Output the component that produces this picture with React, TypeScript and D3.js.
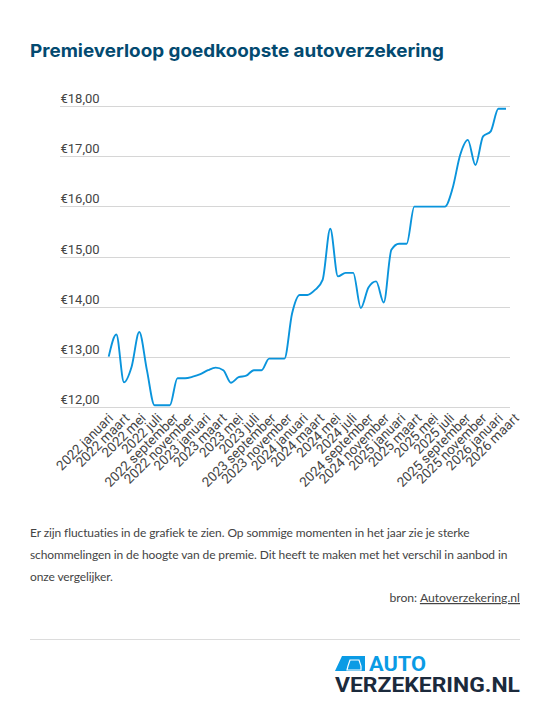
import React from "react";
import * as d3 from "d3";

const title = "Premieverloop goedkoopste autoverzekering";
const yTicks = [12, 13, 14, 15, 16, 17, 18];
const tickLabels = [
  "2022 januari", "2022 maart", "2022 mei", "2022 juli", "2022 september", "2022 november",
  "2023 januari", "2023 maart", "2023 mei", "2023 juli", "2023 september", "2023 november",
  "2024 januari", "2024 maart", "2024 mei", "2024 juli", "2024 september", "2024 november",
  "2025 januari", "2025 maart", "2025 mei", "2025 juli", "2025 september", "2025 november",
  "2026 januari", "2026 maart",
];
const premium = [
  13.01, 13.45, 12.5, 12.81, 13.5, 12.74, 12.04, 12.04, 12.04, 12.58, 12.58, 12.61, 12.66, 12.74,
  12.79, 12.74, 12.49, 12.6, 12.63, 12.74, 12.74, 12.97, 12.97, 12.97, 13.87, 14.24, 14.24, 14.34,
  14.54, 15.56, 14.61, 14.68, 14.68, 13.98, 14.39, 14.51, 14.09, 15.14, 15.26, 15.26, 16.0, 16.0,
  16.0, 16.0, 16.0, 16.36, 17.03, 17.33, 16.83, 17.4, 17.5, 17.95, 17.95,
];
const bodyLines = [
  "Er zijn fluctuaties in de grafiek te zien. Op sommige momenten in het jaar zie je sterke",
  "schommelingen in de hoogte van de premie. Dit heeft te maken met het verschil in aanbod in",
  "onze vergelijker.",
];

const y = d3.scaleLinear().domain([12, 18]).range([407.3, 106.3]);
const x = d3.scaleLinear().domain([0, premium.length - 1]).range([108.7, 506]);
const xLabel = d3.scalePoint<string>().domain(tickLabels).range([109, 515]);
const line = d3
  .line<number>()
  .x((_, i) => x(i))
  .y((d) => y(d))
  .curve(d3.curveMonotoneX);

const fmt = (v: number) => "€" + v.toFixed(2).replace(".", ",");
const snap = (v: number) => Math.round(v - 0.2) + 0.5;

export default function App() {
  return (
    <svg
      width={550}
      height={709}
      viewBox="0 0 550 709"
      style={{ position: "absolute", left: 0, top: 0, background: "#fff" }}
    >
      <defs>
        <clipPath id="lab">
          <rect x={0} y={400} width={519.5} height={120} />
        </clipPath>
      </defs>
      <text x={30} y={57} fontFamily="Inter" fontWeight={700} fontSize={18} fill="#034a70" textLength={414} lengthAdjust="spacingAndGlyphs">
        {title}
      </text>
      {yTicks.map((t) => (
        <g key={t}>
          <line x1={60} x2={510} y1={snap(y(t))} y2={snap(y(t))} stroke="#d6d6d6" strokeWidth={1} />
          <text x={60.5} y={snap(y(t)) - 3.2} fontFamily="Roboto" fontSize={13} fill="#444">
            {fmt(t)}
          </text>
        </g>
      ))}
      <path d={line(premium) ?? ""} fill="none" stroke="#0a94dc" strokeWidth={1.9} />
      <g clipPath="url(#lab)">
        {tickLabels.map((l) => (
          <text
            key={l}
            transform={`translate(${xLabel(l)! + 5},${419}) rotate(-45)`}
            textAnchor="end"
            fontFamily="Roboto"
            fontSize={13.4}
            fill="#444"
          >
            {l}
          </text>
        ))}
      </g>
      {bodyLines.map((l, i) => (
        <text key={i} x={30} y={537 + i * 22} fontFamily="Lato" fontSize={12} letterSpacing={-0.1} fill="#444">
          {l}
        </text>
      ))}
      <text x={520} y={602} textAnchor="end" fontFamily="Lato" fontSize={12.2} fill="#444">
        bron: <tspan textDecoration="underline">Autoverzekering.nl</tspan>
      </text>
      <line x1={30} x2={520} y1={639.5} y2={639.5} stroke="#dcdcdc" />
      <g>
        <path d="M342 656 L365 656 L365 671 L335 671 Z" fill="#0a9be5" />
        <path d="M348 666 L350 660 L359 660 L361 666 L361 670 L347 670 Z" fill="none" stroke="#fff" strokeWidth={1.2} />
        <text x={369} y={671} fontFamily="Roboto" fontWeight={700} fontSize={21} fill="#0a9be5" textLength={57} lengthAdjust="spacingAndGlyphs">
          AUTO
        </text>
        <text x={335} y={692} fontFamily="Roboto" fontWeight={700} fontSize={21} fill="#1b2a3c" textLength={185} lengthAdjust="spacingAndGlyphs">
          VERZEKERING.NL
        </text>
      </g>
    </svg>
  );
}
